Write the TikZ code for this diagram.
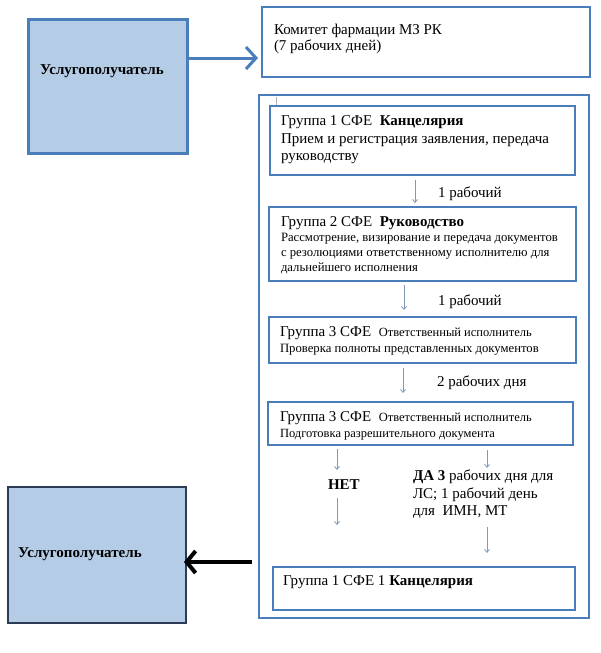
\documentclass[tikz,border=0pt]{standalone}
\usepackage{fontspec}
\setmainfont{Liberation Serif}
\usetikzlibrary{arrows.meta}
\definecolor{bbord}{HTML}{4A7EBB}
\definecolor{bfill}{HTML}{B4CCE6}
\definecolor{thinarr}{HTML}{8099B8}
\definecolor{darkbord}{HTML}{2E3B55}
\tikzset{
  box/.style={draw=bbord, line width=2.5pt, inner sep=0pt, outer sep=0pt, anchor=north west},
  txt/.style={anchor=base west, inner sep=0pt, outer sep=0pt},
  big/.style={font=\fontsize{15}{17}\selectfont},
  mid/.style={font=\fontsize{12.7}{15}\selectfont},
  thin/.style={draw=thinarr, line width=0.8pt, -{Straight Barb[length=3pt,width=5pt]}},
}
\newcommand{\smalltx}{\fontsize{12.5}{14}\selectfont}
\begin{document}
\begin{tikzpicture}[x=1pt,y=-1pt]
\useasboundingbox (0,0) rectangle (600,653);
% left top client
\node[box, fill=bfill, line width=3pt, minimum width=159pt, minimum height=134pt] (uc1) at (28,19) {};
\node[txt, big] (uct1) at (40,74) {\textbf{Услугополучатель}};
% committee
\node[box, line width=2pt, minimum width=328pt, minimum height=70pt] (kom) at (262,7) {};
\node[txt, big] (komt1) at (274,34) {Комитет фармации МЗ РК};
\node[txt, big] (komt2) at (274,50) {(7 рабочих дней)};
\coordinate (a1s) at (187,58);
\draw[draw=bbord, line width=3pt, -{Straight Barb[length=10pt,width=22pt]}] (a1s) -- ([xshift=-4pt]kom.west |- a1s);
% outer box
\node[box, minimum width=330pt, minimum height=523pt] (outer) at (259,95) {};
\coordinate (tk1) at (276,97);
\coordinate (tk2) at (276,106);
\draw[draw=gray!60, line width=0.6pt] (tk1) -- (tk2);
% group 1
\node[box, minimum width=305pt, minimum height=69pt] (g1) at (270,106) {};
\node[txt, big] (g1t1) at (281,125) {Группа 1 СФЕ\ \ \textbf{Канцелярия}};
\node[txt, big] (g1t2) at (281,143) {Прием и регистрация заявления, передача};
\node[txt, big] (g1t3) at (281,160) {руководству};
\coordinate (ar1s) at (415,180);
\coordinate (ar1e) at (415,203);
\draw[thin] (ar1s) -- (ar1e);
\node[txt, big] (l1) at (438,197) {1 рабочий};
% group 2
\node[box, minimum width=307pt, minimum height=74pt] (g2) at (269,207) {};
\node[txt, big] (g2t1) at (281,226) {Группа 2 СФЕ\ \ \textbf{Руководство}};
\node[txt, mid] (g2t2) at (281,241) {Рассмотрение, визирование и передача документов};
\node[txt, mid] (g2t3) at (281,256) {с резолюциями ответственному исполнителю для};
\node[txt, mid] (g2t4) at (281,271) {дальнейшего исполнения};
\coordinate (ar2s) at (404,285);
\coordinate (ar2e) at (404,310);
\draw[thin] (ar2s) -- (ar2e);
\node[txt, big] (l2) at (438,305) {1 рабочий};
% group 3a
\node[box, minimum width=307pt, minimum height=46pt] (g3a) at (269,317) {};
\node[txt, big] (g3at1) at (280,336) {Группа 3 СФЕ\ \ {\smalltx Ответственный исполнитель}};
\node[txt, mid] (g3at2) at (280,352) {Проверка полноты представленных документов};
\coordinate (ar3s) at (403,368);
\coordinate (ar3e) at (403,393);
\draw[thin] (ar3s) -- (ar3e);
\node[txt, big] (l3) at (437,386) {2 рабочих дня};
% group 3b
\node[box, minimum width=305pt, minimum height=43pt] (g3b) at (268,402) {};
\node[txt, big] (g3bt1) at (280,421) {Группа 3 СФЕ\ \ {\smalltx Ответственный исполнитель}};
\node[txt] (g3bt2) at (280,437) {\smalltx Подготовка разрешительного документа};
% no branch
\coordinate (n1s) at (337,449);
\coordinate (n1e) at (337,470);
\coordinate (n2s) at (337,498);
\coordinate (n2e) at (337,525);
\draw[thin] (n1s) -- (n1e);
\draw[thin] (n2s) -- (n2e);
\node[txt, big] (net) at (328,489) {\textbf{НЕТ}};
% yes branch
\coordinate (y1s) at (487,450);
\coordinate (y1e) at (487,468);
\coordinate (y2s) at (487,527);
\coordinate (y2e) at (487,553);
\draw[thin] (y1s) -- (y1e);
\draw[thin] (y2s) -- (y2e);
\node[txt, big] (da1) at (413,480) {\textbf{ДА 3} рабочих дня для};
\node[txt, big] (da2) at (413,498) {ЛС; 1 рабочий день};
\node[txt, big] (da3) at (413,515) {для\ \ ИМН, МТ};
% final group
\node[box, minimum width=302pt, minimum height=43pt] (gf) at (273,567) {};
\node[txt, big] (gft) at (283,585) {Группа 1 СФЕ 1 \textbf{Канцелярия}};
% bottom client
\node[box, fill=bfill, draw=darkbord, line width=1.5pt, minimum width=178pt, minimum height=136pt] (uc2) at (8,487) {};
\node[txt, big] (uct2) at (18,557) {\textbf{Услугополучатель}};
\coordinate (bas) at (252,562);
\draw[line width=4pt, -{Straight Barb[length=9pt,width=22pt]}] (bas) -- ([xshift=-2pt]uc2.east |- bas);
\end{tikzpicture}
\end{document}
